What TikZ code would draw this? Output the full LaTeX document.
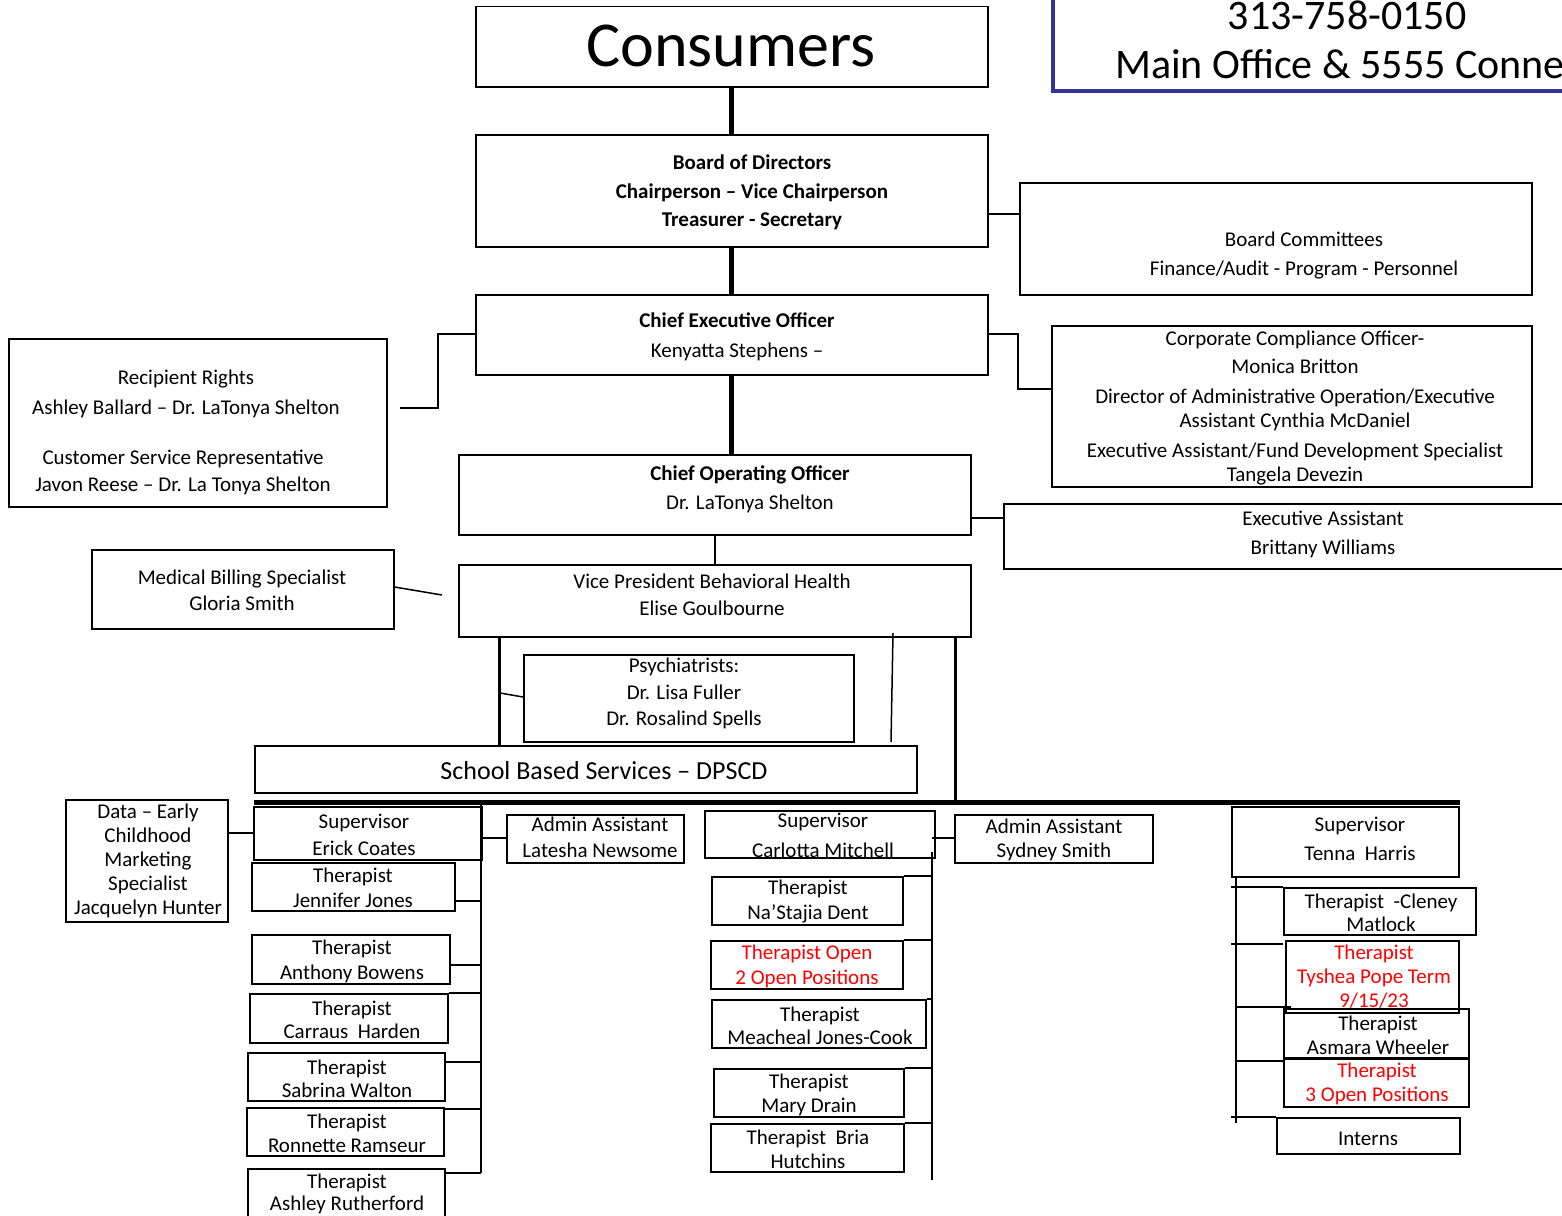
\documentclass[tikz,border=0pt]{standalone}
\usepackage{fontspec}
\setmainfont{Carlito}
\definecolor{hdrblue}{RGB}{51,51,153}
\definecolor{openred}{RGB}{255,0,0}
\newcommand\mybox[5]{\node[box,minimum width={#4-#2},minimum height={#5-#3}] (#1) at (#2,#3) {};}
\newcommand\fs[2]{\fontsize{#1}{#2}\selectfont}
\tikzset{
  box/.style={draw,line width=1.5pt,inner sep=0pt,anchor=north west},
  txt/.style={align=center,inner sep=0pt,yshift=-2pt,font=\fs{21}{24}},
  heavy/.style={line width=5pt},
  medium/.style={line width=3pt},
  thin/.style={line width=1.5pt},
}
\begin{document}
\begin{tikzpicture}[x=1pt,y=-1pt]
\useasboundingbox (0,0) rectangle (1562,1215);
\clip (0,0) rectangle (1562,1215);
\fill[white] (0,0) rectangle (1562,1215);

% header box (clipped)
\node[draw=hdrblue,line width=4pt,inner sep=0pt,anchor=north west,minimum width=700,minimum height=130] (hdr) at (1051,-41) {};
\node[inner sep=0pt,font=\fs{42}{50}] (phone) at (1347,15) {313-758-0150};
\node[inner sep=0pt,anchor=west,font=\fs{42}{50}] (office) at (1115,64) {Main Office \& 5555 Conne};

% top chain
\mybox{cons}{475}{6}{987}{86}
\node[inner sep=0pt,font=\fs{64}{70}] (tcons) at (731,46) {Consumers};
\mybox{board}{475}{134}{987}{246}
\node[txt,font=\bfseries\fs{21}{28.5}] (tboard) at (752,190.5) {Board of Directors\\Chairperson – Vice Chairperson\\Treasurer - Secretary};
\mybox{comm}{1019}{182}{1531}{294}
\node[txt,font=\fs{21}{29}] (tcomm) at (1304,253.5) {Board Committees\\Finance/Audit - Program - Personnel};
\mybox{ceo}{475}{294}{987}{374}
\node[txt,font=\fs{21}{30}] (tceo) at (737,335) {\textbf{Chief Executive Officer}\\Kenyatta Stephens –};
\mybox{rr}{8}{338}{386}{506}
\node[txt,font=\fs{21}{30}] (trr1) at (186,392) {Recipient Rights\\Ashley Ballard – Dr. LaTonya Shelton};
\node[txt,font=\fs{21}{27}] (trr2) at (183,470.5) {Customer Service Representative\\Javon Reese – Dr. La Tonya Shelton};
\mybox{comp}{1051}{325}{1531}{486}
\node[txt,font=\fs{21}{24}] (tcomp) at (1295,406.5) {Corporate Compliance Officer-\\[4pt]Monica Britton\\[6pt]Director of Administrative Operation/Executive\\Assistant Cynthia McDaniel\\[6pt]Executive Assistant/Fund Development Specialist\\Tangela Devezin};
\mybox{coo}{458}{454}{970}{534}
\node[txt,font=\fs{21}{29}] (tcoo) at (750,487.5) {\textbf{Chief Operating Officer}\\Dr. LaTonya Shelton};
\mybox{exec}{1003}{503}{1600}{568}
\node[txt,font=\fs{21}{29}] (texec) at (1323,532.5) {Executive Assistant\\Brittany Williams};
\mybox{vp}{458}{564}{970}{636}
\node[txt,font=\fs{21}{27}] (tvp) at (712,592.5) {Vice President Behavioral Health\\Elise Goulbourne};
\mybox{med}{91}{549}{393}{628}
\node[txt,font=\fs{21}{26}] (tmed) at (242,588) {Medical Billing Specialist\\Gloria Smith};
\mybox{psych}{523}{654}{853}{741}
\node[txt,font=\fs{21}{26.5}] (tpsych) at (684,691.5) {Psychiatrists:\\Dr. Lisa Fuller\\Dr. Rosalind Spells};
\mybox{sbs}{254}{745}{916}{792}
\node[txt,font=\fs{26}{28}] (tsbs) at (604,769) {School Based Services – DPSCD};

% top connectors
\draw[heavy] (cons.south) -- (board.north);
\draw[heavy] (board.south) -- (ceo.north);
\draw[heavy] (ceo.south) -- (ceo.south |- coo.north);
\draw[thin] (board.east |- 0,214) -- (comm.west |- 0,214);
\coordinate (rrend) at (400,408);
\draw[thin] (ceo.west |- 0,334) -- (438,334) -- (438,408) -- (rrend);
\draw[thin] (ceo.east |- 0,334) -- (1018,334) -- (1018,389) -- (comp.west |- 0,389);
\draw[thin] (coo.east |- 0,518) -- (exec.west |- 0,518);
\draw[thin] (coo.south -| 715,0) -- (vp.north -| 715,0);
\coordinate (medend) at (442,595);
\draw[thin] (med.east |- 0,587) -- (medend);
\draw[medium] (vp.south -| 499,0) -- (sbs.north -| 499,0);
\draw[thin] (500,693) -- (psych.west |- 0,697);
\coordinate (slA) at (893,633);
\coordinate (slB) at (891,742);
\draw[thin] (slA) -- (slB);
\coordinate (barL) at (254,802);
\coordinate (barR) at (1460,802);
\draw[medium] (vp.south -| 955,0) -- (barR -| 955,0);
\draw[heavy] (barL) -- (barR);

% left group
\mybox{data}{65}{799}{227}{921}
\node[txt,font=\fs{21}{24}] (tdata) at (148,859) {Data – Early\\Childhood\\Marketing\\Specialist\\Jacquelyn Hunter};
\mybox{erick}{253}{806}{481}{859}
\node[txt,font=\fs{21}{27}] (terick) at (364,832.5) {Supervisor\\Erick Coates};
\mybox{lat}{506}{814}{683}{862}
\node[txt,font=\fs{21}{26}] (tlat) at (600,835) {Admin Assistant\\Latesha Newsome};
\mybox{jen}{251}{862}{454}{910}
\node[txt,font=\fs{21}{25}] (tjen) at (353,885.5) {Therapist\\Jennifer Jones};
\mybox{ant}{251}{934}{449}{983}
\node[txt,font=\fs{21}{25}] (tant) at (352,959.5) {Therapist\\Anthony Bowens};
\mybox{car}{249}{993}{447}{1042}
\node[txt,font=\fs{21}{23}] (tcar) at (352,1017.5) {Therapist\\Carraus~ Harden};
\mybox{sab}{247}{1052}{444}{1100}
\node[txt,font=\fs{21}{23}] (tsab) at (347,1076.5) {Therapist\\Sabrina Walton};
\mybox{ron}{246}{1107}{443}{1155}
\node[txt,font=\fs{21}{24}] (tron) at (347,1131) {Therapist\\Ronnette Ramseur};
\mybox{ash}{247}{1168}{444}{1240}
\node[txt,font=\fs{21}{22}] (tash) at (347,1192) {Therapist\\Ashley Rutherford};

\draw[thin] (data.east |- 0,833) -- (erick.west |- 0,833);
\draw[thin] (481,805) -- (481,1173);
\draw[thin] (erick.east |- 0,838) -- (lat.west |- 0,838);
\draw[thin] (jen.east |- 0,901) -- (481,901);
\draw[thin] (ant.east |- 0,965) -- (481,965);
\draw[thin] (car.east |- 0,993) -- (481,993);
\draw[thin] (sab.east |- 0,1062) -- (481,1062);
\draw[thin] (ron.east |- 0,1109) -- (481,1109);
\draw[thin] (ash.east |- 0,1173) -- (481,1173);

% middle group
\mybox{carl}{704}{810}{934}{857}
\node[txt,font=\fs{21}{30}] (tcarl) at (823,833) {Supervisor\\Carlotta Mitchell};
\mybox{syd}{954}{814}{1152}{862}
\node[txt,font=\fs{21}{24}] (tsyd) at (1054,838) {Admin Assistant\\Sydney Smith};
\mybox{nas}{711}{876}{902}{924}
\node[txt,font=\fs{21}{25}] (tnas) at (808,899.5) {Therapist\\Na’Stajia Dent};
\mybox{open}{710}{940}{902}{988}
\node[txt,font=\fs{21}{25},text=openred] (topen) at (807,964.5) {Therapist Open\\2 Open Positions};
\mybox{mea}{711}{999}{925}{1047}
\node[txt,font=\fs{21}{23}] (tmea) at (820,1023.5) {Therapist\\Meacheal Jones-Cook};
\mybox{mary}{713}{1068}{903}{1116}
\node[txt,font=\fs{21}{24}] (tmary) at (809,1093) {Therapist\\Mary Drain};
\mybox{bria}{710}{1123}{903}{1171}
\node[txt,font=\fs{21}{24}] (tbria) at (808,1147) {Therapist~ Bria\\Hutchins};

\draw[thin] (932,852) -- (932,1180);
\draw[thin] (932,838) -- (syd.west |- 0,838);
\draw[thin] (nas.east |- 0,876) -- (932,876);
\draw[thin] (open.east |- 0,940) -- (932,940);
\draw[thin] (mea.north east) -- (932,999);
\draw[thin] (mary.east |- 0,1068) -- (932,1068);
\draw[thin] (bria.east |- 0,1123) -- (932,1123);

% right group
\mybox{ten}{1231}{806}{1458}{876}
\node[txt,font=\fs{21}{29}] (tten) at (1360,837) {Supervisor\\Tenna~ Harris};
\mybox{cle}{1283}{887}{1475}{934}
\node[txt,font=\fs{21}{23}] (tcle) at (1381,910.5) {Therapist~ -Cleney\\Matlock};
\mybox{tys}{1285}{940}{1458}{1012}
\node[txt,font=\fs{21}{24},text=openred] (ttys) at (1374,975) {Therapist\\Tyshea Pope Term\\9/15/23};
\mybox{asm}{1283}{1008}{1468}{1057}
\node[txt,font=\fs{21}{24}] (tasm) at (1378,1033) {Therapist\\Asmara Wheeler};
\mybox{thr}{1283}{1058}{1468}{1106}
\node[txt,font=\fs{21}{24},text=openred] (tthr) at (1377,1082) {Therapist\\3 Open Positions};
\mybox{int}{1276}{1117}{1459}{1153}
\node[txt,font=\fs{21}{24}] (tint) at (1368,1137) {Interns};

\draw[thin] (1236,876) -- (1236,1123);
\draw[thin] (1231,887) -- (cle.west |- 0,887);
\draw[thin] (1231,944) -- (cle.west |- 0,944);
\draw[thin] (1236,1007) -- (1291,1007);
\draw[thin] (1236,1061) -- (thr.west |- 0,1061);
\draw[thin] (1231,1117) -- (int.west |- 0,1117);
\end{tikzpicture}
\end{document}
